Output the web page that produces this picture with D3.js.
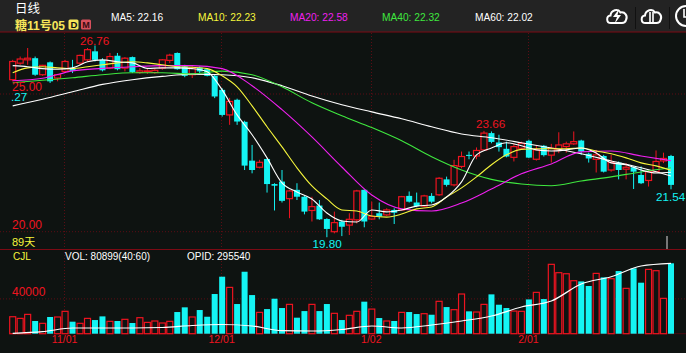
<!DOCTYPE html>
<html>
<head>
<meta charset="utf-8">
<style>
    html, body { margin: 0; padding: 0; background: #0e1311; overflow: hidden; }
    svg { display: block; }
    text { font-family: "Liberation Sans", "Noto Sans CJK SC", sans-serif; }
    .domain { display: none; }
</style>
</head>
<body>
<div id="chart"></div>
<script src="https://cdnjs.cloudflare.com/ajax/libs/d3/7.8.5/d3.min.js"></script>
<script>
// prices, one entry per trading day
var openPrice = [25.52,26.12,26.24,26.30,25.70,26.15,25.58,25.82,25.94,26.12,26.24,26.55,26.24,25.94,26.39,25.94,26.34,25.78,25.82,25.78,25.94,26.22,26.49,26.00,25.70,25.96,25.90,25.66,25.15,24.24,24.79,23.99,22.58,22.34,22.64,21.73,21.82,21.20,21.52,21.27,20.77,20.95,20.46,20.00,20.37,20.24,20.43,21.52,20.46,20.67,20.61,20.79,20.79,21.30,21.06,20.93,21.30,21.34,21.90,21.70,22.37,22.79,22.75,22.97,23.58,23.24,23.01,22.70,23.03,23.30,22.63,23.12,22.78,22.97,23.09,23.19,23.31,22.83,22.63,22.75,22.24,22.51,22.27,22.34,22.06,21.86,22.18,22.57,22.75];
var highPrice = [26.24,26.36,26.67,26.36,26.06,26.18,25.73,26.24,26.24,26.43,26.67,26.76,26.30,26.49,26.49,26.34,26.36,25.94,25.94,25.94,26.27,26.46,26.51,26.06,26.00,26.00,25.94,25.70,25.21,24.86,24.83,24.03,23.15,22.61,22.66,21.76,22.24,21.52,21.76,21.30,21.27,21.15,20.49,20.73,20.43,20.67,21.52,21.54,21.09,21.06,20.85,20.85,21.30,21.46,21.42,21.34,21.40,21.98,22.00,22.61,22.91,22.91,23.06,23.66,23.64,23.52,23.27,23.21,23.27,23.34,23.12,23.15,23.19,23.61,23.27,23.64,23.34,22.87,22.97,22.79,22.79,22.55,22.49,22.37,22.37,22.24,22.95,22.87,22.79];
var lowPrice = [25.46,26.06,26.06,25.66,25.66,25.40,25.46,25.78,25.76,26.06,26.18,26.18,25.82,25.90,25.86,25.82,25.76,25.73,25.73,25.73,25.88,26.12,25.88,25.61,25.58,25.76,25.64,24.85,24.18,23.88,23.88,22.24,22.12,22.30,21.42,20.77,21.06,20.49,21.15,20.63,20.37,20.43,19.80,19.94,19.84,19.88,20.30,20.16,20.43,20.45,20.57,20.28,20.77,21.06,20.89,20.89,21.03,21.30,21.64,21.64,22.30,22.63,22.63,22.95,23.21,22.91,22.70,22.55,22.97,22.67,22.58,22.73,22.51,22.85,22.87,23.15,22.79,22.51,22.15,22.15,22.18,21.90,21.90,21.55,21.73,21.64,22.15,22.49,21.54];
var closePrice = [26.18,26.27,26.30,25.70,26.04,25.46,25.70,26.18,25.84,26.40,26.61,26.24,25.86,26.36,25.90,26.30,25.80,25.84,25.84,25.86,26.24,26.41,25.90,25.66,25.94,25.82,25.66,24.91,24.24,24.73,24.00,22.40,22.24,22.52,21.73,21.67,21.12,21.48,21.27,20.73,20.91,20.45,20.10,20.33,20.18,20.45,21.48,20.37,20.55,20.55,20.79,20.69,21.27,21.09,20.93,21.30,21.09,21.94,21.70,22.40,22.73,22.75,22.95,23.58,23.26,23.07,22.73,23.09,23.21,22.69,22.97,22.78,23.03,23.15,23.19,23.27,22.91,22.66,22.79,22.18,22.51,22.24,22.34,22.18,21.76,22.18,22.55,22.66,21.70];
var volume = [19500,17600,22200,14600,11900,19200,19200,25700,13800,11900,17600,15700,19900,14200,14600,16500,12300,18400,13000,14600,12300,14200,24900,30300,19200,27200,19500,45600,65500,53200,34100,71200,44400,24500,28300,40200,29500,33700,18400,26000,33700,26000,34100,23400,15700,21100,25700,36800,28300,18000,14600,14600,24500,24900,22600,23000,21800,37200,30600,27600,45600,25700,24900,33700,45200,33300,29500,26000,25700,39400,47500,39800,79700,70100,68900,60900,60100,54800,69300,64700,63200,72000,52100,75100,58600,73900,72400,40600,80899];

// moving averages, read every 2 days (ma5, ma10) or every 4 days (the others)
var ma5 = [26.03,25.99,25.92,25.90,25.95,26.17,26.24,26.17,26.13,25.93,25.95,25.95,25.92,25.81,25.15,24.24,23.52,22.68,21.77,21.44,21.19,20.68,20.39,20.35,20.79,20.72,20.79,20.93,20.97,21.26,21.81,22.79,23.04,23.23,23.12,22.97,22.93,22.97,23.04,22.86,22.50,22.43,22.24,22.13,22.16];
var ma10 = [25.77,25.95,25.99,25.95,25.92,25.99,26.06,26.13,26.17,26.13,26.06,25.99,25.97,25.92,25.66,25.26,24.57,23.81,23.08,22.32,21.66,21.19,20.79,20.75,20.57,20.53,20.64,20.83,20.90,21.26,21.59,21.99,22.43,22.79,22.99,23.01,23.01,23.01,23.04,22.93,22.83,22.68,22.50,22.39,22.23];
var ma20 = [25.48,25.57,25.84,25.93,25.99,26.03,26.03,25.92,25.30,24.43,23.44,22.35,21.33,20.83,20.75,21.04,21.55,22.10,22.46,22.90,22.93,22.75,22.58];
var ma40 = [25.41,25.50,25.59,25.70,25.77,25.77,25.73,25.83,25.70,25.26,24.68,24.21,23.78,23.30,22.72,22.24,21.90,21.73,21.67,21.84,21.99,22.17,22.32];
var ma60 = [24.57,24.81,25.08,25.35,25.52,25.64,25.72,25.70,25.59,25.30,24.93,24.61,24.35,24.10,23.81,23.55,23.41,23.23,23.04,22.83,22.57,22.32,22.02];
var opid = [61300,66700,79100,79100,79100,80700,87400,90800,85800,70000,69000,74100,85800,79100,89100,102500,119200,149300,169400,226300,250700,286500,295540];

var dateIndex = [7, 28, 48, 69];
var dateLabels = ["11/01", "12/01", "1/02", "2/01"];
var priceTicks = [25, 20];
var volumeTicks = [40000];

var legendNames = ["MA5: 22.16", "MA10: 22.23", "MA20: 22.58", "MA40: 22.32", "MA60: 22.02"];
var legendColors = ["#ffffff", "#f6f63c", "#f020f0", "#3fe83f", "#ffffff"];
var legendX = [111, 198, 290, 382, 475];

var width = 686, height = 353;
var red = "#ee1420", cyan = "#14f4f4", grid = "#5c0d14";

var svg = d3.select("#chart").append("svg")
    .attr("width", width)
    .attr("height", height);

svg.append("rect").attr("width", width).attr("height", height).attr("fill", "#0e1311");
svg.append("rect").attr("width", width).attr("height", 32).attr("fill", "#232323");

var x = d3.scaleLinear().domain([0, 88]).range([12.7, 671]);
var y = d3.scaleLinear().domain([20, 25]).range([231.7, 94]);
var yVol = d3.scaleLinear().domain([0, 80899]).range([333.7, 263.3]);
var yOpid = d3.scaleLinear().domain([60000, 295540]).range([333.7, 263.3]);

// dotted grid
svg.selectAll(".vgrid")
    .data(dateIndex)
    .enter().append("line")
    .attr("class", "vgrid")
    .attr("x1", function(d) { return Math.round(x(d)) - 0.5; })
    .attr("x2", function(d) { return Math.round(x(d)) - 0.5; })
    .attr("y1", 33)
    .attr("y2", 333)
    .attr("stroke", grid)
    .attr("stroke-dasharray", "1,2");

svg.selectAll(".hgrid")
    .data(priceTicks)
    .enter().append("line")
    .attr("class", "hgrid")
    .attr("x1", 0)
    .attr("x2", width)
    .attr("y1", function(d) { return y(d); })
    .attr("y2", function(d) { return y(d); })
    .attr("stroke", grid)
    .attr("stroke-dasharray", "1,2");

svg.append("line")
    .attr("x1", 0).attr("x2", width)
    .attr("y1", yVol(40000)).attr("y2", yVol(40000))
    .attr("stroke", grid)
    .attr("stroke-dasharray", "1,2");

// frame lines
[32, 249.5].forEach(function(v) {
    svg.append("line")
        .attr("x1", 0).attr("x2", width)
        .attr("y1", v).attr("y2", v)
        .attr("stroke", "#7c0a14")
        .attr("stroke-width", 1.2);
});
svg.append("line")
    .attr("x1", 10).attr("x2", width)
    .attr("y1", 333.7).attr("y2", 333.7)
    .attr("stroke", "#4a0a10");

// candles
var days = d3.range(openPrice.length);

svg.selectAll(".wick")
    .data(days)
    .enter().append("line")
    .attr("class", "wick")
    .attr("x1", function(d) { return x(d); })
    .attr("x2", function(d) { return x(d); })
    .attr("y1", function(d) { return y(highPrice[d]); })
    .attr("y2", function(d) { return y(lowPrice[d]); })
    .attr("stroke", function(d) { return closePrice[d] >= openPrice[d] ? red : cyan; })
    .attr("stroke-width", 1);

svg.selectAll(".body")
    .data(days)
    .enter().append("rect")
    .attr("class", "body")
    .attr("x", function(d) { return x(d) - 3; })
    .attr("width", 6)
    .attr("y", function(d) { return y(Math.max(openPrice[d], closePrice[d])); })
    .attr("height", function(d) { return Math.max(1, Math.abs(y(openPrice[d]) - y(closePrice[d]))); })
    .attr("fill", function(d) { return closePrice[d] >= openPrice[d] ? "#0e1311" : cyan; })
    .attr("stroke", function(d) { return closePrice[d] >= openPrice[d] ? red : cyan; })
    .attr("stroke-width", function(d) { return closePrice[d] >= openPrice[d] ? 1.2 : 0; });

// moving average lines
function drawLine(values, step, scale, color, widthPx) {
    var line = d3.line()
        .x(function(d, i) { return x(i * step); })
        .y(function(d) { return scale(d); })
        .curve(d3.curveMonotoneX);
    svg.append("path")
        .datum(values)
        .attr("d", line)
        .attr("fill", "none")
        .attr("stroke", color)
        .attr("stroke-width", widthPx);
}

drawLine(ma60, 4, y, "#ffffff", 1.1);
drawLine(ma40, 4, y, "#3fe83f", 1.1);
drawLine(ma20, 4, y, "#f020f0", 1.1);
drawLine(ma10, 2, y, "#f6f63c", 1.1);
drawLine(ma5, 2, y, "#ffffff", 1.1);

// volume panel
svg.selectAll(".vol")
    .data(days)
    .enter().append("rect")
    .attr("class", "vol")
    .attr("x", function(d) { return x(d) - 3; })
    .attr("width", 6)
    .attr("y", function(d) { return yVol(volume[d]); })
    .attr("height", function(d) { return yVol(0) - yVol(volume[d]); })
    .attr("fill", function(d) { return closePrice[d] >= openPrice[d] ? "#0e1311" : cyan; })
    .attr("stroke", function(d) { return closePrice[d] >= openPrice[d] ? red : cyan; })
    .attr("stroke-width", function(d) { return closePrice[d] >= openPrice[d] ? 1.2 : 0; });

drawLine(opid, 4, yOpid, "#ffffff", 1.2);

// axes, labels sit inside the plot
var priceAxis = d3.axisRight(y)
    .tickValues(priceTicks)
    .tickFormat(d3.format(".2f"))
    .tickSize(0);

svg.append("g")
    .attr("class", "y axis")
    .attr("transform", "translate(9,-7)")
    .call(priceAxis)
    .selectAll("text")
    .attr("fill", red)
    .style("font-size", "12px");

var volAxis = d3.axisRight(yVol)
    .tickValues(volumeTicks)
    .tickFormat(d3.format("d"))
    .tickSize(0);

svg.append("g")
    .attr("class", "y axis")
    .attr("transform", "translate(9,-7)")
    .call(volAxis)
    .selectAll("text")
    .attr("fill", red)
    .style("font-size", "12px");

var dateAxis = d3.axisBottom(x)
    .tickValues(dateIndex)
    .tickFormat(function(d, i) { return dateLabels[i]; })
    .tickSize(0);

svg.append("g")
    .attr("class", "x axis")
    .attr("transform", "translate(-1,333)")
    .call(dateAxis)
    .selectAll("text")
    .attr("fill", red)
    .style("font-size", "10.5px");

// text helper
function label(txt, tx, ty, color, size, weight) {
    return svg.append("text")
        .attr("x", tx)
        .attr("y", ty)
        .attr("fill", color)
        .style("font-size", size + "px")
        .style("font-weight", weight || "normal")
        .text(txt);
}

label("日线", 15, 13, "#ffffff", 12.5);
label("糖11号05", 15, 30, "#f6e65a", 12, "bold");

svg.append("rect").attr("x", 68.5).attr("y", 19.5).attr("width", 10).attr("height", 10).attr("rx", 1.5).attr("fill", "#f6e65a");
label("D", 70.5, 28, "#111111", 9.5, "bold");
svg.append("rect").attr("x", 81).attr("y", 19.5).attr("width", 10).attr("height", 10).attr("rx", 1.5).attr("fill", "#d8505c");
label("M", 82.3, 28, "#3a0c10", 9, "bold");

legendNames.forEach(function(d, i) {
    label(d, legendX[i], 21, legendColors[i], 10.2);
});

label("26.76", 80, 44.5, red, 11.7);
label(".27", 11, 100.5, cyan, 11.7);
label("23.66", 476, 128, red, 11.7);
label("19.80", 312.5, 248, cyan, 11.7);
label("21.54", 656, 201, cyan, 11.7);
label("89天", 12, 246, "#f6f63c", 11);
label("CJL", 13, 260, "#f6f63c", 10);
label("VOL: 80899(40:60)", 65, 260, "#ffffff", 10);
label("OPID: 295540", 187, 260, "#ffffff", 10);

// small grey mark above the panel line
svg.append("rect").attr("x", 666).attr("y", 236).attr("width", 2).attr("height", 13).attr("fill", "#777777");

// header icons
var cloudPath = "M-6,8 C-11,8 -11,1 -6.5,0.5 C-6,-5 1,-7 3.5,-2.5 C8,-3.5 11,1 9,5 C8.5,7 7,8 5,8 Z";
[617, 651.5].forEach(function(cx) {
    svg.append("path")
        .attr("d", cloudPath)
        .attr("transform", "translate(" + cx + ",15)")
        .attr("fill", "none")
        .attr("stroke", "#ffffff")
        .attr("stroke-width", 2);
});
svg.append("path").attr("d", "M619,9 L613,17 L617,17 L614.5,24 L621,15 L617.5,15 Z").attr("fill", "#ffffff");
svg.append("path").attr("d", "M650,12 V24 M653,12 V24").attr("stroke", "#ffffff").attr("stroke-width", 1.6);
svg.append("circle").attr("cx", 686).attr("cy", 16).attr("r", 10).attr("fill", "none").attr("stroke", "#ffffff").attr("stroke-width", 2);
svg.append("path").attr("d", "M684,9 V17 H686").attr("fill", "none").attr("stroke", "#ffffff").attr("stroke-width", 1.6);
[635.5, 669.5].forEach(function(px) {
    svg.append("line").attr("x1", px).attr("x2", px).attr("y1", 7).attr("y2", 29).attr("stroke", "#111111");
});
</script>
</body>
</html>
